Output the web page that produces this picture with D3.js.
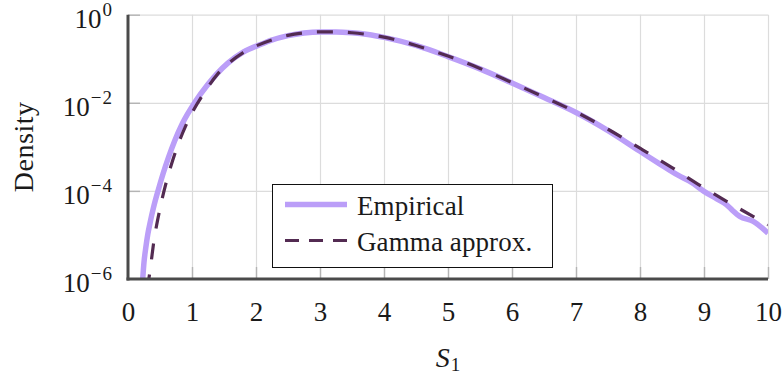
<!DOCTYPE html>
<html>
<head>
<meta charset="utf-8">
<script src="https://cdn.jsdelivr.net/npm/d3@7"></script>
<style>
  body { margin: 0; background: #fff; }
  svg { display: block; }
  text { font-family: "Liberation Serif", "Times New Roman", serif; fill: #1a1a1a; }
</style>
</head>
<body>
<svg id="chart" width="784" height="379"></svg>
<script>
// Empirical density of S1 (sampled curve)
const empiricalX = [0.23, 0.25, 0.277, 0.31, 0.344, 0.4, 0.473, 0.55, 0.63, 0.73, 0.85, 1.05, 1.25, 1.56, 1.8, 2.09, 2.22, 2.5, 2.75, 3.0, 3.25, 3.5, 3.75, 4.0, 4.5, 5.0, 5.5, 6.0, 6.5, 7.0, 7.5, 8.0, 8.3, 8.6, 8.8, 9.0, 9.2, 9.35, 9.45, 9.56, 9.77, 10.0];
const empiricalY = [1.0e-6, 2.40e-6, 5.01e-6, 1.05e-5, 1.86e-5, 4.27e-5, 1.05e-4, 2.51e-4, 5.62e-4, 1.38e-3, 3.39e-3, 1.05e-2, 2.63e-2, 7.94e-2, 0.141, 0.216, 0.257, 0.335, 0.385, 0.407, 0.407, 0.389, 0.355, 0.305, 0.200, 0.112, 0.0589, 0.0282, 0.0132, 6.03e-3, 2.34e-3, 7.94e-4, 4.17e-4, 2.24e-4, 1.58e-4, 9.77e-5, 6.61e-5, 4.90e-5, 3.55e-5, 2.63e-5, 2.04e-5, 1.10e-5];

// Gamma approximation of the same density
const gammaX = [0.3, 0.35, 0.4, 0.5, 0.6, 0.7, 0.8, 0.9, 1.0, 1.2, 1.4, 1.6, 1.8, 2.0, 2.25, 2.5, 2.75, 3.0, 3.25, 3.5, 3.75, 4.0, 4.5, 5.0, 5.5, 6.0, 6.5, 7.0, 7.5, 8.0, 8.5, 9.0, 9.5, 10.0];
const gammaY = [5.62e-7, 1.78e-6, 6.46e-6, 3.98e-5, 1.62e-4, 5.01e-4, 1.32e-3, 2.95e-3, 5.89e-3, 1.78e-2, 4.47e-2, 8.51e-2, 0.138, 0.195, 0.269, 0.339, 0.385, 0.407, 0.407, 0.389, 0.355, 0.309, 0.200, 0.115, 0.0603, 0.0288, 0.0135, 6.17e-3, 2.51e-3, 9.33e-4, 3.39e-4, 1.17e-4, 4.37e-5, 1.70e-5];

const xTickValues = [0, 1, 2, 3, 4, 5, 6, 7, 8, 9, 10];
const yTickValues = [1, 1e-2, 1e-4, 1e-6];
const yTickExponents = ["0", "\u22122", "\u22124", "\u22126"];
const seriesNames = ["Empirical", "Gamma approx."];
const seriesColors = ["#bb9ef8", "#532b52"];

const svg = d3.select("#chart");
const plotLeft = 128, plotRight = 768, plotTop = 14.7, plotBottom = 279;

const x = d3.scaleLinear().domain([0, 10]).range([plotLeft, plotRight]);
const y = d3.scaleLog().domain([1e-6, 1]).range([plotBottom, plotTop]);

// grid
const gridX = svg.append("g").attr("transform", `translate(0,${plotBottom})`)
  .call(d3.axisBottom(x).tickValues(xTickValues.slice(1)).tickSize(-(plotBottom - plotTop)).tickFormat(""));
const gridY = svg.append("g").attr("transform", `translate(${plotLeft},0)`)
  .call(d3.axisLeft(y).tickValues(yTickValues.slice(0, 3)).tickSize(-(plotRight - plotLeft)).tickFormat(""));
[gridX, gridY].forEach(g => {
  g.select(".domain").remove();
  g.selectAll("line").attr("stroke", "#dcdcdc").attr("stroke-width", 1.2);
});

// short inner tick marks
const tickX = svg.append("g").attr("transform", `translate(0,${plotBottom})`)
  .call(d3.axisBottom(x).tickValues(xTickValues.slice(1)).tickSize(-12).tickFormat(""));
const tickY = svg.append("g").attr("transform", `translate(${plotLeft},0)`)
  .call(d3.axisLeft(y).tickValues(yTickValues.slice(0, 3)).tickSize(-12).tickFormat(""));
[tickX, tickY].forEach(g => {
  g.select(".domain").remove();
  g.selectAll("line").attr("stroke", "#b4b4b4").attr("stroke-width", 1.4);
});

// curves
svg.append("clipPath").attr("id", "plotClip")
  .append("rect").attr("x", plotLeft).attr("y", plotTop - 5)
  .attr("width", plotRight - plotLeft).attr("height", plotBottom - plotTop + 5);

const line = d3.line().x(d => x(d[0])).y(d => y(d[1])).curve(d3.curveMonotoneX);
const empirical = empiricalX.map((v, i) => [v, empiricalY[i]]);
const gamma = gammaX.map((v, i) => [v, gammaY[i]]);

const curves = svg.append("g").attr("clip-path", "url(#plotClip)");
curves.append("path").datum(empirical).attr("d", line)
  .attr("fill", "none").attr("stroke", seriesColors[0]).attr("stroke-width", 5.5)
  .attr("stroke-linejoin", "round");
curves.append("path").datum(gamma).attr("d", line)
  .attr("fill", "none").attr("stroke", seriesColors[1]).attr("stroke-width", 3.2)
  .attr("stroke-dasharray", "16,15");

// axis lines and labels
const axisX = svg.append("g").attr("transform", `translate(0,${plotBottom})`)
  .call(d3.axisBottom(x).tickValues(xTickValues).tickSize(0).tickFormat(d3.format("d")));
axisX.select(".domain").attr("stroke", "#4a4a4a").attr("stroke-width", 3)
  .attr("d", `M${plotLeft - 1.5},0H${plotRight}`);
axisX.selectAll("text").attr("y", 42).attr("dy", 0)
  .style("font-size", "27px").attr("fill", "#1a1a1a")
  .style("font-family", "'Liberation Serif', serif");

const axisY = svg.append("g").attr("transform", `translate(${plotLeft},0)`)
  .call(d3.axisLeft(y).tickValues(yTickValues).tickSize(0).tickFormat(""));
axisY.select(".domain").attr("stroke", "#4a4a4a").attr("stroke-width", 3)
  .attr("d", `M0,${plotTop}V${plotBottom + 1.5}`);
axisY.selectAll(".tick").each(function (d, i) {
  const t = d3.select(this).append("text")
    .attr("x", -15).attr("y", 12.5)
    .attr("text-anchor", "end")
    .style("font-size", "27px");
  t.append("tspan").text("10");
  t.append("tspan").attr("dy", -12).attr("dx", 1).style("font-size", "19px")
    .style("letter-spacing", "1px").text(yTickExponents[i]);
});

// axis titles
const xTitle = svg.append("text").attr("x", (plotLeft + plotRight) / 2).attr("y", 367)
  .attr("text-anchor", "middle").style("font-size", "28px");
xTitle.append("tspan").style("font-style", "italic").text("S");
xTitle.append("tspan").attr("dy", 4).attr("dx", 1).style("font-size", "19px").text("1");

svg.append("text")
  .attr("transform", `translate(33,${(plotTop + plotBottom) / 2}) rotate(-90)`)
  .attr("text-anchor", "middle").style("font-size", "28px")
  .style("letter-spacing", "0.5px").text("Density");

// legend
const legend = svg.append("g");
legend.append("rect").attr("x", 272.5).attr("y", 184.5).attr("width", 280).attr("height", 83)
  .attr("fill", "#fff").attr("stroke", "#111").attr("stroke-width", 1);
const rows = [204.5, 240.5];
legend.append("line").attr("x1", 285).attr("x2", 347).attr("y1", rows[0]).attr("y2", rows[0])
  .attr("stroke", seriesColors[0]).attr("stroke-width", 5.5);
legend.append("line").attr("x1", 285).attr("x2", 347).attr("y1", rows[1]).attr("y2", rows[1])
  .attr("stroke", seriesColors[1]).attr("stroke-width", 3.2).attr("stroke-dasharray", "14,10");
seriesNames.forEach((name, i) => {
  legend.append("text").attr("x", 357).attr("y", rows[i] + 10)
    .style("font-size", "27px").style("letter-spacing", "0.1px").text(name);
});
</script>
</body>
</html>
